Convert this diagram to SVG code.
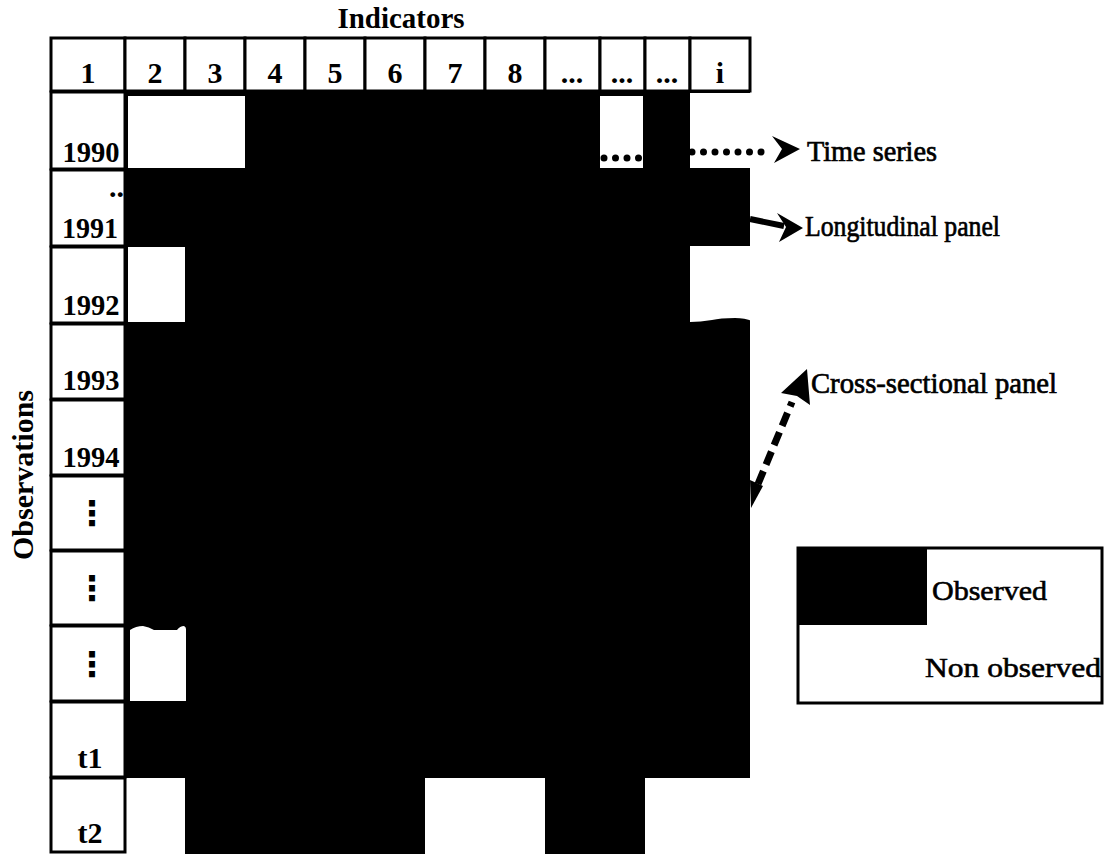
<svg xmlns="http://www.w3.org/2000/svg" width="1105" height="854" viewBox="0 0 1105 854">
<style>
.cell{fill:#fff;stroke:#000;stroke-width:3}
.lbl{font-family:"Liberation Serif","Times New Roman",serif;font-weight:bold;font-size:30px;text-anchor:middle;fill:#000}
.dots{font-family:"DejaVu Sans",sans-serif;font-weight:bold;font-size:34px;text-anchor:middle;fill:#000}
.ann{font-family:"Liberation Serif","Times New Roman",serif;font-size:30px;fill:#000;stroke:#000;stroke-width:0.7}
.leg{font-family:"Liberation Serif","Times New Roman",serif;font-size:28px;fill:#000;stroke:#000;stroke-width:0.6}
.blk{fill:#000}
.wht{fill:#fff}
.dot{fill:none;stroke:#000;stroke-width:7;stroke-linecap:round;stroke-dasharray:0 11.5}
</style>
<rect width="1105" height="854" fill="#fff"/>

<g id="titles">
<text class="lbl" x="401" y="28" textLength="127" lengthAdjust="spacingAndGlyphs">Indicators</text>
<text class="lbl" transform="translate(33,475) rotate(-90)" x="0" y="0" textLength="170" lengthAdjust="spacingAndGlyphs">Observations</text>
</g>

<g id="data">
<rect class="blk" x="125" y="91" width="625" height="687"/>
<rect class="blk" x="185" y="778" width="240" height="76"/>
<rect class="blk" x="545" y="778" width="100" height="76"/>
<rect class="wht" x="128" y="96" width="117" height="72"/>
<rect class="wht" x="600" y="96" width="43" height="72"/>
<rect class="wht" x="690" y="93" width="62" height="75"/>
<rect class="wht" x="128" y="247" width="57" height="75"/>
<path class="wht" d="M690,246 H752 V321 Q745,318 735,318 Q720,318 712,320 Q700,322 690,322 Z"/>
<path class="wht" d="M130,701 V630 Q136,626 143,626 Q149,627 154,630 L177,630 Q180,626 184,626 Q186,627 186,629 V701 Z"/>
</g>

<g id="header">
<g id="h1"><rect class="cell" x="51" y="38" width="74" height="53"/><text class="lbl" x="88" y="83">1</text></g>
<g id="h2"><rect class="cell" x="125" y="38" width="60" height="53"/><text class="lbl" x="155" y="83">2</text></g>
<g id="h3"><rect class="cell" x="185" y="38" width="60" height="53"/><text class="lbl" x="215" y="83">3</text></g>
<g id="h4"><rect class="cell" x="245" y="38" width="60" height="53"/><text class="lbl" x="275" y="83">4</text></g>
<g id="h5"><rect class="cell" x="305" y="38" width="60" height="53"/><text class="lbl" x="335" y="83">5</text></g>
<g id="h6"><rect class="cell" x="365" y="38" width="60" height="53"/><text class="lbl" x="395" y="83">6</text></g>
<g id="h7"><rect class="cell" x="425" y="38" width="60" height="53"/><text class="lbl" x="455" y="83">7</text></g>
<g id="h8"><rect class="cell" x="485" y="38" width="60" height="53"/><text class="lbl" x="515" y="83">8</text></g>
<g id="h9"><rect class="cell" x="545" y="38" width="55" height="53"/><text class="lbl" x="572" y="83">...</text></g>
<g id="h10"><rect class="cell" x="600" y="38" width="45" height="53"/><text class="lbl" x="622" y="83">...</text></g>
<g id="h11"><rect class="cell" x="645" y="38" width="45" height="53"/><text class="lbl" x="667" y="83">...</text></g>
<g id="h12"><rect class="cell" x="690" y="38" width="60" height="53"/><text class="lbl" x="720" y="83">i</text></g>
</g>

<g id="rows">
<g id="r1990"><rect class="cell" x="51" y="92" width="74" height="77"/><text class="lbl" x="91" y="162" textLength="57" lengthAdjust="spacingAndGlyphs">1990</text></g>
<g id="r1991"><rect class="cell" x="51" y="170" width="74" height="76"/><text class="lbl" x="124" y="197" style="text-anchor:end">..</text><text class="lbl" x="90" y="238" textLength="56" lengthAdjust="spacingAndGlyphs">1991</text></g>
<g id="r1992"><rect class="cell" x="51" y="247" width="74" height="76"/><text class="lbl" x="91" y="315" textLength="57" lengthAdjust="spacingAndGlyphs">1992</text></g>
<g id="r1993"><rect class="cell" x="51" y="324" width="74" height="75"/><text class="lbl" x="91" y="390" textLength="57" lengthAdjust="spacingAndGlyphs">1993</text></g>
<g id="r1994"><rect class="cell" x="51" y="400" width="74" height="75"/><text class="lbl" x="91" y="467" textLength="57" lengthAdjust="spacingAndGlyphs">1994</text></g>
<g id="rdots1"><rect class="cell" x="51" y="476" width="74" height="74"/><text class="dots" x="92" y="525">⋮</text></g>
<g id="rdots2"><rect class="cell" x="51" y="551" width="74" height="74"/><text class="dots" x="92" y="600">⋮</text></g>
<g id="rdots3"><rect class="cell" x="51" y="626" width="74" height="75"/><text class="dots" x="92" y="676">⋮</text></g>
<g id="rt1"><rect class="cell" x="51" y="702" width="74" height="75"/><text class="lbl" x="90" y="768">t1</text></g>
<g id="rt2"><rect class="cell" x="51" y="778" width="74" height="74"/><text class="lbl" x="90" y="843">t2</text></g>
</g>

<g id="legend">
<rect class="cell" x="798" y="548" width="304" height="155"/>
<rect class="blk" x="798" y="548" width="129" height="77"/>
<text class="leg" x="932" y="600" textLength="115" lengthAdjust="spacingAndGlyphs">Observed</text>
<text class="leg" x="925" y="677" textLength="176" lengthAdjust="spacingAndGlyphs">Non observed</text>
</g>

<g id="connectors">
<line class="dot" x1="604" y1="158" x2="641" y2="158"/>
<line class="dot" x1="692" y1="152" x2="770" y2="152"/>
<polygon class="blk" points="772,136 800,149 774,163 782,149"/>
<line x1="750" y1="219" x2="784" y2="226" stroke="#000" stroke-width="6"/>
<polygon class="blk" points="777,213 803,228 779,242 786,227"/>
<polygon class="blk" points="750,480 763,486 751,508"/>
<line x1="758" y1="484" x2="792" y2="402" stroke="#000" stroke-width="7" stroke-dasharray="14 7"/>
<polygon class="blk" points="807,369 810,405 797,396 781,393"/>
</g>

<g id="annotations">
<text class="ann" x="807" y="161" textLength="130" lengthAdjust="spacingAndGlyphs">Time series</text>
<text class="ann" x="805" y="236" textLength="195" lengthAdjust="spacingAndGlyphs">Longitudinal panel</text>
<text class="ann" x="811" y="393" textLength="246" lengthAdjust="spacingAndGlyphs">Cross-sectional panel</text>
</g>
</svg>
